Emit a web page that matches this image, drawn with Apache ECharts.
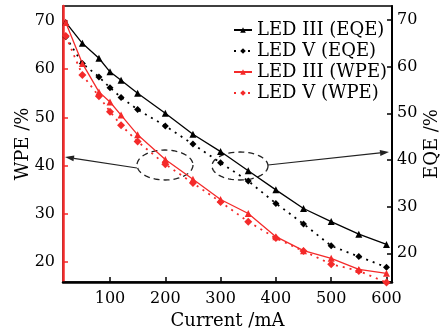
<!DOCTYPE html>
<html>
<head>
<meta charset="utf-8">
<script src="https://cdn.jsdelivr.net/npm/echarts@6/dist/echarts.min.js"></script>
<style>
html, body { margin: 0; padding: 0; background: #fff; }
#chart { width: 444px; height: 335px; }
</style>
</head>
<body>
<div id="chart"></div>
<script>
// drive current, mA
const currents = [20, 50, 80, 100, 120, 150, 200, 250, 300, 350, 400, 450, 500, 550, 600];
// EQE (right axis), %
const eqeLed3 = [69.5, 65.0, 61.8, 58.9, 57.1, 54.3, 50.0, 45.5, 41.8, 37.7, 33.6, 29.6, 26.8, 24.1, 21.9];
const eqeLed5 = [66.4, 60.7, 57.8, 55.5, 53.4, 50.8, 47.3, 43.4, 39.4, 35.5, 30.7, 26.3, 21.6, 19.3, 17.0];
// WPE (left axis), %
const wpeLed3 = [69.7, 61.2, 55.3, 53.2, 50.5, 46.4, 41.3, 37.2, 33.0, 30.1, 25.3, 22.4, 20.8, 18.5, 17.7];
const wpeLed5 = [66.9, 58.8, 54.4, 51.2, 48.4, 45.0, 40.3, 36.4, 32.5, 28.4, 25.0, 22.3, 19.6, 18.2, 15.8];
const xTicks = [100, 200, 300, 400, 500, 600];
const yTicks = [20, 30, 40, 50, 60, 70];

const RED = '#f42a2a';
const FONT = 'DejaVu Serif';

function pairs(ys) {
  return currents.map((x, i) => [x, ys[i]]);
}

// dashed ellipse drawn as closed polygon
function ellipse(cx, cy, rx, ry) {
  const pts = [];
  for (let i = 0; i < 60; i++) {
    const a = i / 60 * Math.PI * 2;
    pts.push([cx + rx * Math.cos(a), cy + ry * Math.sin(a)]);
  }
  return {
    type: 'polygon', silent: true,
    shape: { points: pts },
    style: { fill: 'none', stroke: '#222', lineWidth: 1.3, lineDash: [6, 4] }
  };
}

function arrow(x1, y1, x2, y2) {
  const dx = x2 - x1, dy = y2 - y1;
  const len = Math.sqrt(dx * dx + dy * dy);
  const ux = dx / len, uy = dy / len;
  const bx = x2 - ux * 9, by = y2 - uy * 9;
  return [
    { type: 'line', silent: true, shape: { x1, y1, x2: bx, y2: by }, style: { stroke: '#222', lineWidth: 1.2 } },
    { type: 'polygon', silent: true,
      shape: { points: [[x2, y2], [bx - uy * 3, by + ux * 3], [bx + uy * 3, by - ux * 3]] },
      style: { fill: '#222' } }
  ];
}

const chart = echarts.init(document.getElementById('chart'), null, { renderer: 'canvas' });

const labelStyle = { fontFamily: FONT, fontSize: 16, color: '#000' };

chart.setOption({
  animation: false,
  grid: {
    left: 63, right: 52, top: 6, bottom: 53, outerBoundsMode: 'none',
    show: true, borderColor: '#000', borderWidth: 1.5
  },
  legend: {
    orient: 'vertical', left: 233, top: 21,
    itemWidth: 18, itemHeight: 7, itemGap: 3, padding: 0,
    textStyle: { fontFamily: FONT, fontSize: 18, color: '#000', lineHeight: 18 },
    data: ['LED III (EQE)', 'LED V (EQE)', 'LED III (WPE)', 'LED V (WPE)']
  },
  xAxis: {
    type: 'value', min: 15, max: 610,
    name: 'Current /mA', nameLocation: 'middle', nameGap: 30, nameMoveOverlap: false,
    nameTextStyle: { fontFamily: FONT, fontSize: 18, color: '#000' },
    axisLine: { lineStyle: { color: '#000', width: 2.5 } },
    axisTick: { inside: true, length: 5, customValues: xTicks, lineStyle: { color: '#000', width: 1.5 } },
    axisLabel: { customValues: xTicks, margin: 9, ...labelStyle },
    splitLine: { show: false }
  },
  yAxis: [
    {
      type: 'value', position: 'left', min: 15.9, max: 73.1,
      name: 'WPE /%', nameLocation: 'middle', nameGap: 31, nameRotate: 90, nameMoveOverlap: false,
      nameTextStyle: { fontFamily: FONT, fontSize: 18, color: '#000' },
      axisLine: { show: true, lineStyle: { color: RED, width: 2.5 } },
      axisTick: { inside: true, length: 5, customValues: yTicks, lineStyle: { color: RED, width: 1.5 } },
      axisLabel: { customValues: yTicks, margin: 8, ...labelStyle },
      splitLine: { show: false }
    },
    {
      type: 'value', position: 'right', min: 13.85, max: 73,
      name: 'EQE /%', nameLocation: 'middle', nameGap: 31, nameRotate: 90, nameMoveOverlap: false,
      nameTextStyle: { fontFamily: FONT, fontSize: 18, color: '#000', verticalAlign: 'top' },
      axisLine: { show: true, lineStyle: { color: '#000', width: 2 } },
      axisTick: { inside: true, length: 5, customValues: yTicks, lineStyle: { color: '#000', width: 1.5 } },
      axisLabel: { customValues: yTicks, margin: 5, ...labelStyle },
      splitLine: { show: false }
    }
  ],
  series: [
    {
      name: 'LED III (EQE)', type: 'line', yAxisIndex: 1, data: pairs(eqeLed3),
      symbol: 'triangle', symbolSize: 7, color: '#000', clip: false,
      lineStyle: { width: 1.3 }
    },
    {
      name: 'LED V (EQE)', type: 'line', yAxisIndex: 1, data: pairs(eqeLed5),
      symbol: 'diamond', symbolSize: 7, color: '#000', clip: false,
      lineStyle: { width: 1.8, type: [2, 5] }
    },
    {
      name: 'LED III (WPE)', type: 'line', yAxisIndex: 0, data: pairs(wpeLed3),
      symbol: 'triangle', symbolSize: 7, color: RED, clip: false,
      lineStyle: { width: 1.3 }
    },
    {
      name: 'LED V (WPE)', type: 'line', yAxisIndex: 0, data: pairs(wpeLed5),
      symbol: 'diamond', symbolSize: 8, color: RED, clip: false,
      lineStyle: { width: 1.8, type: [2, 5] }
    }
  ],
  graphic: [
    ellipse(165, 165, 28, 15),
    ellipse(240, 166, 28, 14),
    ...arrow(137, 168, 65, 157),
    ...arrow(268, 165, 389, 152)
  ]
});
</script>
</body>
</html>
